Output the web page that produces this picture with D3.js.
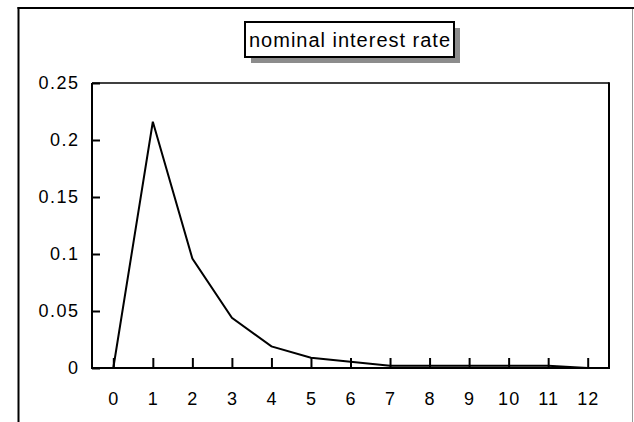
<!DOCTYPE html>
<html><head><meta charset="utf-8">
<script src="https://cdn.jsdelivr.net/npm/d3@7"></script>
<style>html,body{margin:0;padding:0;background:#fff;}svg{display:block;}</style>
</head><body>
<svg id="c" width="634" height="422"></svg>
<script>
const periods = [0,1,2,3,4,5,6,7,8,9,10,11,12];
const rate = [0,0.216,0.096,0.044,0.019,0.009,0.0055,0.002,0.002,0.002,0.002,0.002,0];
const yTicks = [0,0.05,0.1,0.15,0.2,0.25];
const title = "nominal interest rate";

const svg = d3.select("#c");
const font = "'Liberation Sans', Arial, sans-serif";
const L = 92, R = 609, T = 83, B = 368;
const x = d3.scaleLinear().domain([0,12]).range([113.3,587.7]);
const y = d3.scaleLinear().domain([0,0.25]).range([B,T]);

// outer frame
svg.append("line").attr("x1",18.5).attr("x2",18.5).attr("y1",7).attr("y2",422).attr("stroke","#000").attr("stroke-width",2);
svg.append("line").attr("x1",17.5).attr("x2",634).attr("y1",8).attr("y2",8).attr("stroke","#000").attr("stroke-width",2);
svg.append("line").attr("x1",632.5).attr("x2",632.5).attr("y1",9).attr("y2",422).attr("stroke","#999").attr("stroke-width",1);

// title box with shadow
const tb = {x:245, y:22, w:209, h:35};
svg.append("rect").attr("x",tb.x+6).attr("y",tb.y+6).attr("width",tb.w).attr("height",tb.h).attr("fill","#8c8c8c");
svg.append("rect").attr("x",tb.x).attr("y",tb.y).attr("width",tb.w).attr("height",tb.h).attr("fill","#fff").attr("stroke","#000").attr("stroke-width",2);
svg.append("text").attr("x",tb.x+tb.w/2).attr("y",46.5).attr("text-anchor","middle")
  .attr("font-family",font).attr("font-size",20).attr("fill","#000")
  .attr("textLength",201).attr("lengthAdjust","spacing").text(title);

// plot box
svg.append("line").attr("x1",L).attr("x2",R).attr("y1",T).attr("y2",T).attr("stroke","#000").attr("stroke-width",1.5);
svg.append("line").attr("x1",L).attr("x2",L).attr("y1",T).attr("y2",B).attr("stroke","#000").attr("stroke-width",2);
svg.append("line").attr("x1",R).attr("x2",R).attr("y1",T-0.75).attr("y2",B+1).attr("stroke","#000").attr("stroke-width",2);

// y axis
const yAxis = d3.axisRight(y).tickValues(yTicks).tickSize(8).tickFormat(d=>String(d));
const gy = svg.append("g").attr("transform",`translate(${L},0)`).call(yAxis);
gy.select(".domain").remove();
gy.selectAll(".tick line").attr("stroke","#000").attr("stroke-width",2);
gy.selectAll(".tick text").attr("x",-12.5).attr("text-anchor","end").attr("font-family",font).attr("font-size",18)
  .attr("letter-spacing","1.5px").attr("fill","#000");

// x axis
const xAxis = d3.axisTop(x).tickValues(periods).tickSize(10).tickFormat(d=>String(d));
const gx = svg.append("g").attr("transform",`translate(0,${B})`).call(xAxis);
gx.select(".domain").remove();
gx.selectAll(".tick line").attr("stroke","#000").attr("stroke-width",2);
gx.selectAll(".tick text").attr("y",37).attr("dy",0).attr("font-family",font).attr("font-size",18)
  .attr("letter-spacing","1px").attr("fill","#000");
svg.append("line").attr("x1",L-1).attr("x2",R+1).attr("y1",B).attr("y2",B).attr("stroke","#000").attr("stroke-width",2);

// series
const line = d3.line().x((d,i)=>x(periods[i])).y(d=>y(d));
svg.append("path").datum(rate).attr("d",line).attr("fill","none").attr("stroke","#000").attr("stroke-width",2).attr("stroke-linejoin","miter");
</script>
</body></html>
